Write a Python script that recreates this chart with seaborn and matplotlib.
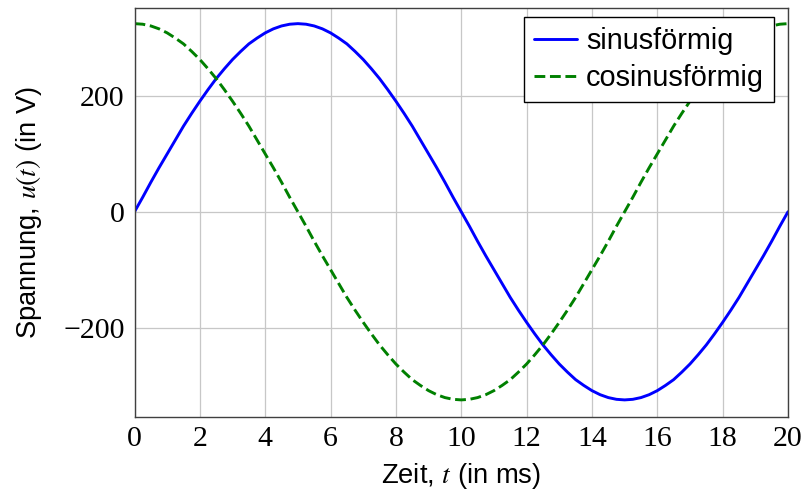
import numpy as np
import matplotlib
matplotlib.use("Agg")
import matplotlib.pyplot as plt
import seaborn as sns

# time in ms (0.25 ms steps) and voltages
zeit = [0, 0.25, 0.5, 0.75, 1, 1.25, 1.5, 1.75, 2, 2.25, 2.5, 2.75, 3, 3.25, 3.5, 3.75,
        4, 4.25, 4.5, 4.75, 5, 5.25, 5.5, 5.75, 6, 6.25, 6.5, 6.75, 7, 7.25, 7.5, 7.75,
        8, 8.25, 8.5, 8.75, 9, 9.25, 9.5, 9.75, 10, 10.25, 10.5, 10.75, 11, 11.25, 11.5,
        11.75, 12, 12.25, 12.5, 12.75, 13, 13.25, 13.5, 13.75, 14, 14.25, 14.5, 14.75,
        15, 15.25, 15.5, 15.75, 16, 16.25, 16.5, 16.75, 17, 17.25, 17.5, 17.75, 18,
        18.25, 18.5, 18.75, 19, 19.25, 19.5, 19.75, 20]
sinus = [0, 25, 51, 76, 100, 124, 148, 170, 191, 211, 230, 247, 263, 277, 290, 300, 309,
         316, 321, 324, 325,
         324, 321, 316, 309, 300, 290, 277, 263, 247, 230, 211, 191, 170, 148, 124, 100,
         76, 51, 25, 0,
         -25, -51, -76, -100, -124, -148, -170, -191, -211, -230, -247, -263, -277, -290,
         -300, -309, -316, -321, -324, -325,
         -324, -321, -316, -309, -300, -290, -277, -263, -247, -230, -211, -191, -170,
         -148, -124, -100, -76, -51, -25, 0]
cosinus = [325, 324, 321, 316, 309, 300, 290, 277, 263, 247, 230, 211, 191, 170, 148,
           124, 100, 76, 51, 25, 0,
           -25, -51, -76, -100, -124, -148, -170, -191, -211, -230, -247, -263, -277,
           -290, -300, -309, -316, -321, -324, -325,
           -324, -321, -316, -309, -300, -290, -277, -263, -247, -230, -211, -191, -170,
           -148, -124, -100, -76, -51, -25, 0,
           25, 51, 76, 100, 124, 148, 170, 191, 211, 230, 247, 263, 277, 290, 300, 309,
           316, 321, 324, 325]
xticks = [0, 2, 4, 6, 8, 10, 12, 14, 16, 18, 20]
yticks = [-200, 0, 200]

sns.set_theme(style="whitegrid")
plt.rcParams['font.family'] = ['Liberation Sans', 'DejaVu Sans']
plt.rcParams['mathtext.fontset'] = 'stix'
plt.rcParams['text.color'] = 'black'
plt.rcParams['axes.labelcolor'] = 'black'

fig = plt.figure(figsize=(8.04, 4.94), dpi=100)
ax = fig.add_axes([0.1673, 0.1565, 0.8128, 0.8273])

sns.lineplot(x=zeit, y=sinus, color=(0, 0, 1), linewidth=2.1, label='sinusförmig', ax=ax)
sns.lineplot(x=zeit, y=cosinus, color=(0, 0.5, 0), linewidth=2.1, linestyle='--',
             dashes=(3.4, 2.4), label='cosinusförmig', ax=ax)

ax.set_xlim(0, 20)
ax.set_ylim(-354, 352)
ax.set_xticks(xticks)
ax.set_yticks(yticks)
ax.set_xticklabels([str(v) for v in xticks], family='Liberation Serif', fontsize=21.5)
ax.set_yticklabels(['\u2212200', '0', '200'], family='Liberation Serif', fontsize=21.5)
ax.tick_params(direction='in', length=4, color='0.5', labelcolor='black', pad=7)
ax.grid(True, color='0.78', linewidth=0.9)
for s in ax.spines.values():
    s.set_color('0.25')
    s.set_linewidth(1.0)

ax.set_xlabel('Zeit, $t$ (in ms)', fontsize=19.7, labelpad=6)
ax.set_ylabel('Spannung, $u(t)$ (in V)', fontsize=19.7, labelpad=14)

leg = ax.legend(loc='upper right', bbox_to_anchor=(0.9786, 0.978), fontsize=20.8,
                frameon=True, fancybox=False, edgecolor='black', framealpha=1,
                borderpad=0.35, labelspacing=0.3, handlelength=1.5, handletextpad=0.3,
                borderaxespad=0)
leg.get_frame().set_linewidth(1.0)

fig.savefig('out.png', dpi=100)
